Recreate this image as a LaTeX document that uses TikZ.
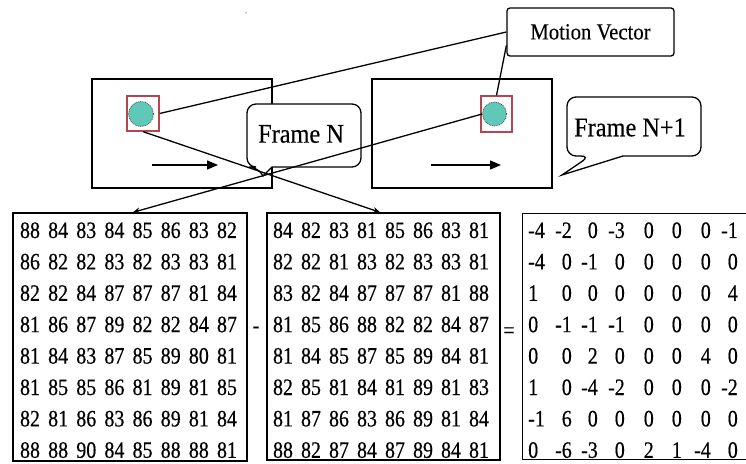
\documentclass[tikz,border=0pt]{standalone}
\usepackage{fontspec}
\setmainfont{Liberation Serif}
\newfontfamily\numfont[FakeStretch=0.85,FakeBold=0.4]{Liberation Serif}
\newfontfamily\lblfont[FakeStretch=0.9,FakeBold=0.3]{Liberation Serif}
\usetikzlibrary{calc,arrows.meta}
\definecolor{sqred}{RGB}{180,70,80}
\definecolor{blob}{RGB}{95,200,185}
\begin{document}
\begin{tikzpicture}[x=1bp,y=-1bp,
  frame/.style={draw,line width=1.3bp,inner sep=0pt},
  mat/.style={draw,line width=1.4bp,inner sep=0pt},
  num/.style={inner sep=0pt,font=\numfont\fontsize{23.5bp}{23.5bp}\selectfont},
  lbl/.style={inner sep=0pt,font=\lblfont\fontsize{27bp}{27bp}\selectfont},
  mvlbl/.style={inner sep=0pt,font=\lblfont\fontsize{23bp}{23bp}\selectfont},
  square/.style={draw=sqred,line width=1.3bp,inner sep=0pt},
  blobby/.style={circle,fill=blob,draw=black!70,densely dotted,line width=0.8bp,minimum size=25bp,inner sep=0pt},
  conn/.style={line width=1.3bp},
  arr/.style={conn,-{Stealth[length=7bp,width=6bp]}},
  mvarr/.style={line width=1.4bp,-{Triangle[length=11bp,width=9bp]}},
  callout/.style={line width=1.3bp,rounded corners=9bp,fill=white},
]
\useasboundingbox (0,0) rectangle (746,464);
\fill[white] (0,0) rectangle (746,464);
\clip (0,0) rectangle (746,464);
\fill[gray!60] (246,13) circle (1bp);
% frames
\node[frame,minimum width=180bp,minimum height=109bp] (fN) at (182,133.5) {};
\node[frame,minimum width=180bp,minimum height=109bp] (fN1) at (462,133.5) {};
\node[square,minimum width=32bp,minimum height=35bp] (sqN) at (143,113.5) {};
\node[square,minimum width=31bp,minimum height=36bp] (sqN1) at (496.5,114) {};
\node[blobby] (cN) at (141,114) {};
\node[blobby,minimum size=24bp] (cN1) at (494.5,114) {};
\coordinate (aNs) at (152,165); \coordinate (aNe) at (218,165);
\coordinate (aN1s) at (431,165); \coordinate (aN1e) at (501,165);
\draw[mvarr] (aNs) -- (aNe);
\draw[mvarr] (aN1s) -- (aN1e);
% motion vector label
\node[draw,line width=1.3bp,rounded corners=3bp,minimum width=167bp,minimum height=48bp,mvlbl] (mv) at (590.5,32) {Motion Vector};
% callouts
\draw[callout] (272,167) -- (361,167) -- (361,104) -- (247,104) -- (247,167) -- (258,167) [sharp corners] -- (263,176) -- cycle;
\node[lbl] (tN) at (301,134) {Frame N};
\draw[callout] (623,156) -- (701,156) -- (701,97) -- (567,97) -- (567,156) -- (590,156) [sharp corners] -- (562,175) -- cycle;
\node[lbl] (tN1) at (630,127.5) {Frame N+1};
% matrices
\node[mat,minimum width=234bp,minimum height=248bp] (Lm) at (130,337) {};
\node[mat,minimum width=233bp,minimum height=247bp] (Mm) at (383.5,336.5) {};
\node[mat,minimum width=260bp,minimum height=246bp,anchor=north west] (Rm) at (522,213) {};
\node[num,anchor=base] (minus) at (256,333) {-};
\node[num,anchor=base] (equals) at (509,338) {=};
\foreach \row [count=\r] in {{88,84,83,84,85,86,83,82},{86,82,82,83,82,83,83,81},{82,82,84,87,87,87,81,84},{81,86,87,89,82,82,84,87},{81,84,83,87,85,89,80,81},{81,85,85,86,81,89,81,85},{82,81,86,83,86,89,81,84},{88,88,90,84,85,88,88,81}} {
  \foreach \v [count=\c] in \row {
    \node[num,anchor=base] (L-\r-\c) at ({30+28.14*(\c-1)},{238+31.4*(\r-1)}) {\v};
  }
}
\foreach \row [count=\r] in {{84,82,83,81,85,86,83,81},{82,82,81,83,82,83,83,81},{83,82,84,87,87,87,81,88},{81,85,86,88,82,82,84,87},{81,84,85,87,85,89,84,81},{82,85,81,84,81,89,81,83},{81,87,86,83,86,89,81,84},{88,82,87,84,87,89,84,81}} {
  \foreach \v [count=\c] in \row {
    \node[num,anchor=base] (M-\r-\c) at ({283+28*(\c-1)},{238+31.4*(\r-1)}) {\v};
  }
}
\foreach \row [count=\r] in {{-4,-2,0,-3,0,0,0,-1},{-4,0,-1,0,0,0,0,0},{1,0,0,0,0,0,0,4},{0,-1,-1,-1,0,0,0,0},{0,0,2,0,0,0,4,0},{1,0,-4,-2,0,0,0,-2},{-1,6,0,0,0,0,0,0},{0,-6,-3,0,2,1,-4,0}} {
  \foreach \v [count=\c] in \row {
    \pgfmathsetmacro\xx{{528,572,598,625,654,682,711,738}[\c-1]}
    \pgfmathsetmacro\yy{238+31.4*(\r-1)}
    \ifnum\c=1
      \node[num,anchor=base west] (R-\r-\c) at (\xx,\yy) {\v};
    \else
      \node[num,anchor=base east] (R-\r-\c) at (\xx,\yy) {\v};
    \fi
  }
}
% connectors
\draw[conn] (sqN.east) -- (mv.west);
\draw[conn] (sqN1.north) -- ($(mv.west)!0.55!(mv.south west)$);
\draw[arr] (cN1.west) -- ([xshift=3bp]Lm.north);
\draw[arr] (sqN.south) -- ([xshift=-3.5bp]Mm.north);
\end{tikzpicture}
\end{document}
